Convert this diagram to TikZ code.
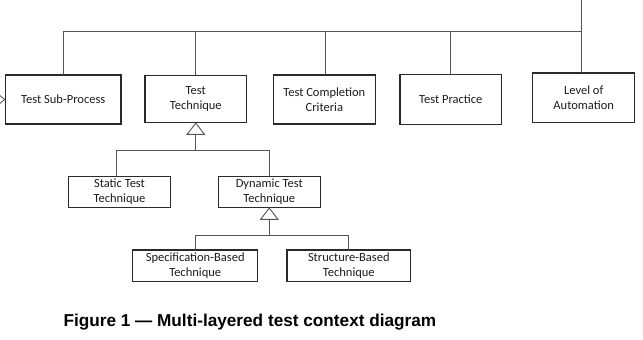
\documentclass[tikz,border=0pt]{standalone}
\usepackage{fontspec}
\setmainfont{Carlito}
\newfontfamily\capfont{Liberation Sans}
\usetikzlibrary{arrows.meta}
\definecolor{boxline}{HTML}{2A2A2A}
\definecolor{conn}{HTML}{555555}
\definecolor{txt}{HTML}{1E1E1E}
\tikzset{
  box/.style={draw=boxline, line width=1.1pt, fill=white, align=center, text=txt,
    font=\fontsize{12.5}{15}\selectfont, inner sep=0pt, outer sep=0pt},
  wire/.style={draw=conn, line width=0.9pt},
  gen/.style={wire, -{Triangle[open, length=12.5pt, width=19pt, line width=0.9pt]}},
}
\begin{document}
\begin{tikzpicture}[x=1pt, y=-1pt]
\useasboundingbox[fill=white] (0,0) rectangle (643,340);
% first level
\node[box, minimum width=115.3pt, minimum height=49pt] (tsp) at (63.3,99.5) {Test Sub-Process};
\node[box, minimum width=101.7pt, minimum height=47.3pt] (tt) at (195.8,98.7) {Test\\Technique};
\node[box, minimum width=102pt, minimum height=49pt] (tcc) at (324.3,99.5) {Test Completion\\Criteria};
\node[box, minimum width=101.7pt, minimum height=49.6pt] (tp) at (450.8,99.5) {Test Practice};
\node[box, minimum width=102pt, minimum height=49.7pt] (loa) at (583.7,97.8) {Level of\\Automation};
% second level
\node[box, minimum width=102.4pt, minimum height=31.3pt] (stt) at (119.5,191.7) {Static Test\\Technique};
\node[box, minimum width=102pt, minimum height=31.3pt] (dtt) at (269.3,191.7) {Dynamic Test\\Technique};
% third level
\node[box, minimum width=125pt, minimum height=31.7pt] (sbt) at (195.2,265.8) {Specification-Based\\Technique};
\node[box, minimum width=123.7pt, minimum height=31.7pt] (stbt) at (348.8,265.8) {Structure-Based\\Technique};
% bus
\coordinate (top) at (581.3,0);
\coordinate (bus) at (581.3,31.7);
\coordinate (lin) at (-20,99.5);
\draw[wire] (top) -- (top |- loa.north);
\draw[wire] (bus) -- (bus -| tsp.north) -- (tsp.north);
\draw[wire] (tt.north) -- (tt.north |- bus);
\draw[wire] ([xshift=1.4pt]tcc.north) -- ([xshift=1.4pt]tcc.north |- bus);
\draw[wire] (tp.north) -- (tp.north |- bus);
\draw[gen] (lin) -- (tsp.west);
% technique generalization
\coordinate (j1) at (195.8,150.7);
\draw[wire] ([xshift=-2.8pt]stt.north) |- (j1) -| (dtt.north);
\draw[gen] (j1) -- (tt.south);
\coordinate (j2) at (269.3,235.3);
\draw[wire] ([xshift=0.5pt]sbt.north) |- (j2) -| (stbt.north);
\draw[gen] (j2) -- (dtt.south);
% caption
\node[anchor=base west, inner sep=0pt, text=black, font=\capfont\bfseries\fontsize{17.2}{20}\selectfont] (cap) at (63.3,326) {Figure 1 — Multi-layered test context diagram};
\end{tikzpicture}
\end{document}
